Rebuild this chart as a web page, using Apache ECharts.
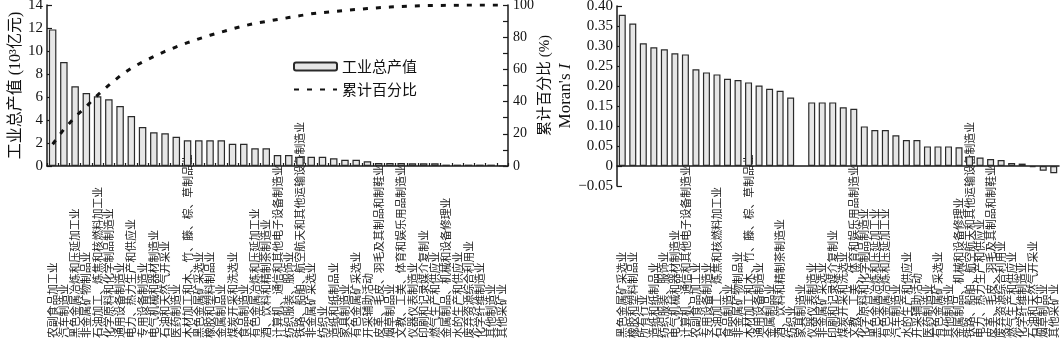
<!DOCTYPE html>
<html>
<head>
<meta charset="utf-8">
<script src="https://cdn.jsdelivr.net/npm/echarts@6/dist/echarts.min.js"></script>
<style>
html,body{margin:0;padding:0;background:#fff;}
#chart{width:1063px;height:343px;}
</style>
</head>
<body>
<div id="chart"></div>
<script>
// ---- Left chart: industrial output (10^3 亿元) and cumulative percent ----
const outputCategories = [
  '农副食品加工业','汽车制造业','黑色金属冶炼和压延加工业','非金属矿物制品业',
  '石油加工、炼焦和核燃料加工业','化学原料和化学制品制造业','通用设备制造业',
  '电力、热力生产和供应业','专用设备制造业','电气机械和器材制造业','石油和天然气开采业',
  '医药制造业','木材加工和木、竹、藤、棕、草制品业','黑色金属矿采选业','橡胶和塑料制品业',
  '金属制品业','煤炭开采和洗选业','食品制造业','有色金属冶炼和压延加工业',
  '酒、饮料和精制茶制造业','计算机、通信和其他电子设备制造业','纺织服装、服饰业',
  '铁路、船舶、航空航天和其他运输设备制造业','非金属矿采选业','纺织业','造纸和纸制品业',
  '家具制造业','有色金属矿采选业','开采辅助活动','皮革、毛皮、羽毛及其制品和制鞋业',
  '烟草制品业','文教、工美、体育和娱乐用品制造业','仪器仪表制造业','印刷和记录媒介复制业',
  '燃气生产和供应业','金属制品、机械和设备修理业','水的生产和供应业','废弃资源综合利用业',
  '化学纤维制造业','其他制造业','其他采矿业'
];
const outputValues = [
  11.88, 9.04, 6.93, 6.35, 6.06, 5.80, 5.22, 4.35, 3.39, 2.93, 2.84,
  2.55, 2.23, 2.23, 2.23, 2.23, 1.94, 1.94, 1.54, 1.54, 0.96, 0.96,
  0.81, 0.81, 0.81, 0.67, 0.55, 0.55, 0.41, 0.26, 0.26, 0.26, 0.23,
  0.23, 0.23, 0.12, 0.12, 0.12, 0.12, 0.12, 0.03
];
const cumulativePercent = [
  13.5, 22.8, 30.5, 37.0, 44.0, 50.2, 56.0, 60.8, 64.6, 68.0, 71.2,
  74.0, 76.6, 79.0, 81.2, 83.2, 85.2, 87.0, 88.6, 89.8, 91.0, 92.2,
  93.4, 94.5, 95.3, 95.9, 96.6, 97.2, 97.8, 98.3, 98.7, 99.1, 99.4,
  99.6, 99.7, 99.8, 99.9, 100, 100, 100, 100
];
const leftAxisTicks = {min: 0, max: 14, interval: 2};
const rightAxisTicks = {min: 0, max: 100, interval: 20};

// ---- Right chart: Moran's I ----
const moranCategories = [
  '黑色金属矿采选业','橡胶和塑料制品业','所有行业','造纸和纸制品业','纺织服装、服饰业',
  '电气机械和器材制造业','计算机、通信和其他电子设备制造业','农副食品加工业','专用设备制造业',
  '石油加工、炼焦和核燃料加工业','食品制造业','非金属矿物制品业',
  '木材加工和木、竹、藤、棕、草制品业','通用设备制造业','金属制品业','酒、饮料和精制茶制造业',
  '纺织业','家具制造业','仪器仪表制造业','非金属矿采选业','印刷和记录媒介复制业',
  '煤炭开采和洗选业','文教、工美、体育和娱乐用品制造业','化学原料和化学制品制造业',
  '黑色金属冶炼和压延加工业','有色金属冶炼和压延加工业','汽车制造业','水的生产和供应业',
  '开采辅助活动','医药制造业','有色金属矿采选业','其他制造业','金属制品、机械和设备修理业',
  '铁路、船舶、航空航天和其他运输设备制造业','电力、热力生产和供应业',
  '皮革、毛皮、羽毛及其制品和制鞋业','废弃资源综合利用业','燃气生产和供应业','化学纤维制造业',
  '石油和天然气开采业','烟草制品业','其他采矿业'
];
const moranValues = [
  0.378, 0.356, 0.307, 0.297, 0.292, 0.282, 0.279, 0.242, 0.234, 0.229,
  0.218, 0.215, 0.209, 0.201, 0.193, 0.188, 0.171, null, 0.159, 0.159,
  0.159, 0.147, 0.143, 0.099, 0.090, 0.090, 0.077, 0.065, 0.065, 0.049,
  0.049, 0.049, 0.047, 0.024, 0.021, 0.0175, 0.015, 0.0075, 0.006, -0.003,
  -0.012, -0.018
];
const moranAxisTicks = {min: -0.05, max: 0.40, interval: 0.05};

const SERIF = "'Liberation Serif', 'Noto Sans CJK SC', serif";
const CJK = "'Noto Sans CJK SC', sans-serif";
const INK = '#1a1a1a';

const chart = echarts.init(document.getElementById('chart'), null, {renderer: 'canvas'});

function catAxis(gridIndex, data, withTicks, margin) {
  return {
    gridIndex: gridIndex, type: 'category', data: data,
    axisLine: {show: true, onZero: true, lineStyle: {color: INK, width: 1.5}},
    axisTick: {show: withTicks, inside: true, length: 3, interval: 0, lineStyle: {color: INK, width: 1.2}},
    axisLabel: {
      interval: 0, rotate: 90, align: 'left', verticalAlign: 'middle', margin: margin,
      fontSize: 10.8, color: '#222', fontFamily: CJK
    },
    splitLine: {show: false}
  };
}

function valAxis(gridIndex, cfg, extra) {
  return Object.assign({
    gridIndex: gridIndex, type: 'value', min: cfg.min, max: cfg.max, interval: cfg.interval,
    axisLine: {show: true, lineStyle: {color: INK, width: 1.5}},
    axisTick: {show: true, inside: true, length: 5, lineStyle: {color: INK, width: 1.2}},
    axisLabel: {fontSize: 15, color: '#111', fontFamily: SERIF, margin: 4},
    splitLine: {show: false},
    nameLocation: 'middle', nameRotate: 90,
    nameTextStyle: {fontSize: 16, color: '#111', fontFamily: SERIF}
  }, extra);
}

const option = {
  animation: false,
  backgroundColor: '#ffffff',
  grid: [
    {left: 47, right: 555, top: 5, bottom: 177, outerBoundsMode: 'none', containLabel: false},
    {left: 617, right: 4, top: 6, bottom: 157, outerBoundsMode: 'none', containLabel: false}
  ],
  legend: {
    orient: 'vertical', left: 288, top: 54,
    itemWidth: 43, itemHeight: 8, itemGap: 8,
    textStyle: {fontSize: 15, color: '#111', fontFamily: CJK},
    data: [
      {name: '工业总产值'},
      {name: '累计百分比', itemStyle: {color: 'rgba(0,0,0,0)', borderWidth: 0, opacity: 0}}
    ]
  },
  xAxis: [
    catAxis(0, outputCategories, true, 172),
    catAxis(1, moranCategories, false, 152)
  ],
  yAxis: [
    valAxis(0, leftAxisTicks, {
      name: '工业总产值 (10³亿元)', nameGap: 22
    }),
    valAxis(0, rightAxisTicks, {
      position: 'right', name: '累计百分比 (%)', nameGap: 26,
      minorTick: {show: true, splitNumber: 2, length: 5, lineStyle: {color: INK, width: 1.2}},
      axisLabel: {fontSize: 14, color: '#111', fontFamily: SERIF, margin: 5},
      nameTextStyle: {fontSize: 15, color: '#111', fontFamily: SERIF, padding: [0, 0, 10, 0]}
    }),
    valAxis(1, moranAxisTicks, {
      name: "Moran's {i|I}", nameGap: 33,
      axisLabel: {
        fontSize: 15, color: '#111', fontFamily: SERIF, margin: 4,
        formatter: function (v) {
          if (Math.abs(v) < 1e-9) return '0';
          return v < 0 ? '\u2212' + (-v).toFixed(2) : v.toFixed(2);
        }
      },
      nameTextStyle: {
        fontSize: 17, color: '#111', fontFamily: SERIF,
        rich: {i: {fontSize: 17, fontStyle: 'italic', fontFamily: SERIF, color: '#111'}}
      }
    })
  ],
  series: [
    {
      name: '工业总产值', type: 'bar', xAxisIndex: 0, yAxisIndex: 0,
      data: outputValues, barWidth: 7.5,
      itemStyle: {color: '#e6e6e6', borderColor: '#2a2a2a', borderWidth: 1.2}
    },
    {
      name: '累计百分比', type: 'line', xAxisIndex: 0, yAxisIndex: 1,
      data: cumulativePercent, symbol: 'none', z: 5,
      lineStyle: {color: '#111', width: 3, type: [5, 8]},
      itemStyle: {color: '#111'}
    },
    {
      name: "Moran's I", type: 'bar', xAxisIndex: 1, yAxisIndex: 2,
      data: moranValues, barWidth: 7,
      itemStyle: {color: '#e6e6e6', borderColor: '#2a2a2a', borderWidth: 1.2}
    }
  ]
};
chart.setOption(option);
</script>
</body>
</html>
